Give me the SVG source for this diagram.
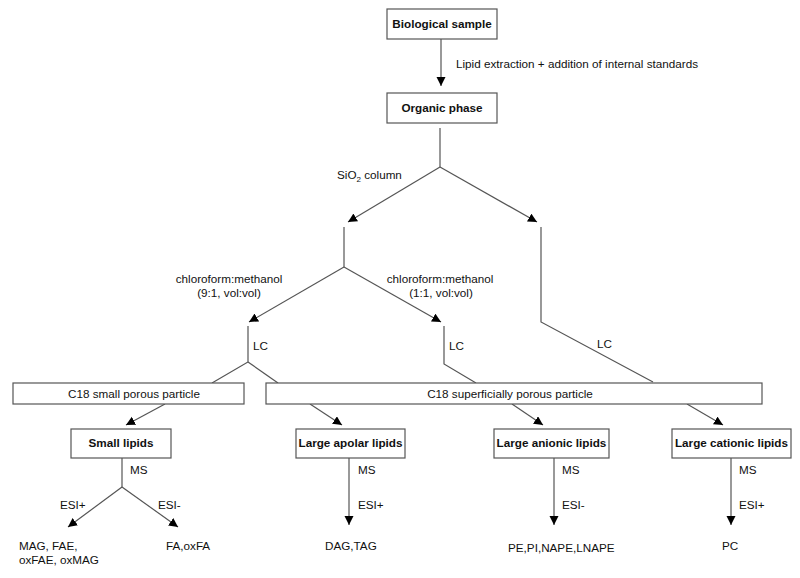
<svg xmlns="http://www.w3.org/2000/svg" width="800" height="578" viewBox="0 0 800 578">
<style>
text{font-family:"Liberation Sans",Arial,sans-serif;font-size:11.7px;fill:#111}
.b{font-weight:bold}
.m{text-anchor:middle}
rect{fill:#fff;stroke:#555;stroke-width:1.2}
.c path{fill:none;stroke:#555;stroke-width:1.2}
</style>
<defs>
<marker id="ah" markerUnits="userSpaceOnUse" markerWidth="10" markerHeight="10" refX="9" refY="4.5" orient="auto" viewBox="0 0 10 10">
<path d="M0,0 L9,4.5 L0,9 z" fill="#000"/>
</marker>
</defs>
<rect width="800" height="578" style="fill:#fff;stroke:none"/>
<g class="c" id="connectors">
<path d="M441,39 L441,86" marker-end="url(#ah)"/>
<path d="M440,128 L440,167"/>
<path d="M440,167 L348,222" marker-end="url(#ah)"/>
<path d="M440,167 L537,222" marker-end="url(#ah)"/>
<path d="M344,227 L344,267"/>
<path d="M344,267 L249,322" marker-end="url(#ah)"/>
<path d="M344,267 L441,322" marker-end="url(#ah)"/>
<path d="M541,227 L541,322 L653,382"/>
<path d="M248,326 L248,362 L212,383"/>
<path d="M248,362 L278,383"/>
<path d="M444,326 L444,364 L476,383"/>
<path d="M165,404 L126,425" marker-end="url(#ah)"/>
<path d="M310,404 L342,425" marker-end="url(#ah)"/>
<path d="M512,404 L543,425" marker-end="url(#ah)"/>
<path d="M687,404 L723,425" marker-end="url(#ah)"/>
<path d="M122,458 L122,487"/>
<path d="M122,487 L68,527" marker-end="url(#ah)"/>
<path d="M122,487 L178,527" marker-end="url(#ah)"/>
<path d="M349,458 L349,525" marker-end="url(#ah)"/>
<path d="M554,458 L554,525" marker-end="url(#ah)"/>
<path d="M731,458 L731,525" marker-end="url(#ah)"/>
</g>
<g id="labels">
<text x="456" y="68">Lipid extraction + addition of internal standards</text>
<text x="337" y="179">SiO<tspan font-size="8" dy="3">2</tspan><tspan dy="-3"> column</tspan></text>
<text class="m" x="229" y="283">chloroform:methanol</text>
<text class="m" x="229" y="297">(9:1, vol:vol)</text>
<text class="m" x="440" y="283">chloroform:methanol</text>
<text class="m" x="441" y="297">(1:1, vol:vol)</text>
<text x="253" y="350">LC</text>
<text x="449" y="350">LC</text>
<text x="597" y="348">LC</text>
<text x="130" y="474">MS</text>
<text x="60" y="509">ESI+</text>
<text x="158" y="509">ESI-</text>
<text x="358" y="474">MS</text>
<text x="358" y="509">ESI+</text>
<text x="562" y="474">MS</text>
<text x="562" y="509">ESI-</text>
<text x="739" y="474">MS</text>
<text x="739" y="509">ESI+</text>
</g>
<g id="biological-sample"><rect x="387" y="9" width="110" height="30"/><text class="b m" x="442" y="28">Biological sample</text></g>
<g id="organic-phase"><rect x="387" y="93" width="110" height="30"/><text class="b m" x="442" y="112">Organic phase</text></g>
<g id="c18-small"><rect x="13" y="383" width="231" height="21"/><text class="m" x="134" y="398">C18 small porous particle</text></g>
<g id="c18-superficial"><rect x="266" y="383" width="496" height="21"/><text class="m" x="510" y="398">C18 superficially porous particle</text></g>
<g id="small-lipids"><rect x="71" y="429" width="100" height="29"/><text class="b m" x="121" y="447">Small lipids</text></g>
<g id="large-apolar"><rect x="296" y="429" width="109" height="29"/><text class="b m" x="350.5" y="447">Large apolar lipids</text></g>
<g id="large-anionic"><rect x="494" y="429" width="115" height="29"/><text class="b m" x="551.5" y="447">Large anionic lipids</text></g>
<g id="large-cationic"><rect x="672" y="429" width="119" height="29"/><text class="b m" x="731.5" y="447">Large cationic lipids</text></g>
<g id="small-out-1"><text x="19" y="550">MAG, FAE,</text><text x="19" y="564">oxFAE, oxMAG</text></g>
<g id="small-out-2"><text x="166" y="550">FA,oxFA</text></g>
<g id="apolar-out"><text x="325" y="550">DAG,TAG</text></g>
<g id="anionic-out"><text x="508" y="552">PE,PI,NAPE,LNAPE</text></g>
<g id="cationic-out"><text x="722" y="550">PC</text></g>
</svg>
